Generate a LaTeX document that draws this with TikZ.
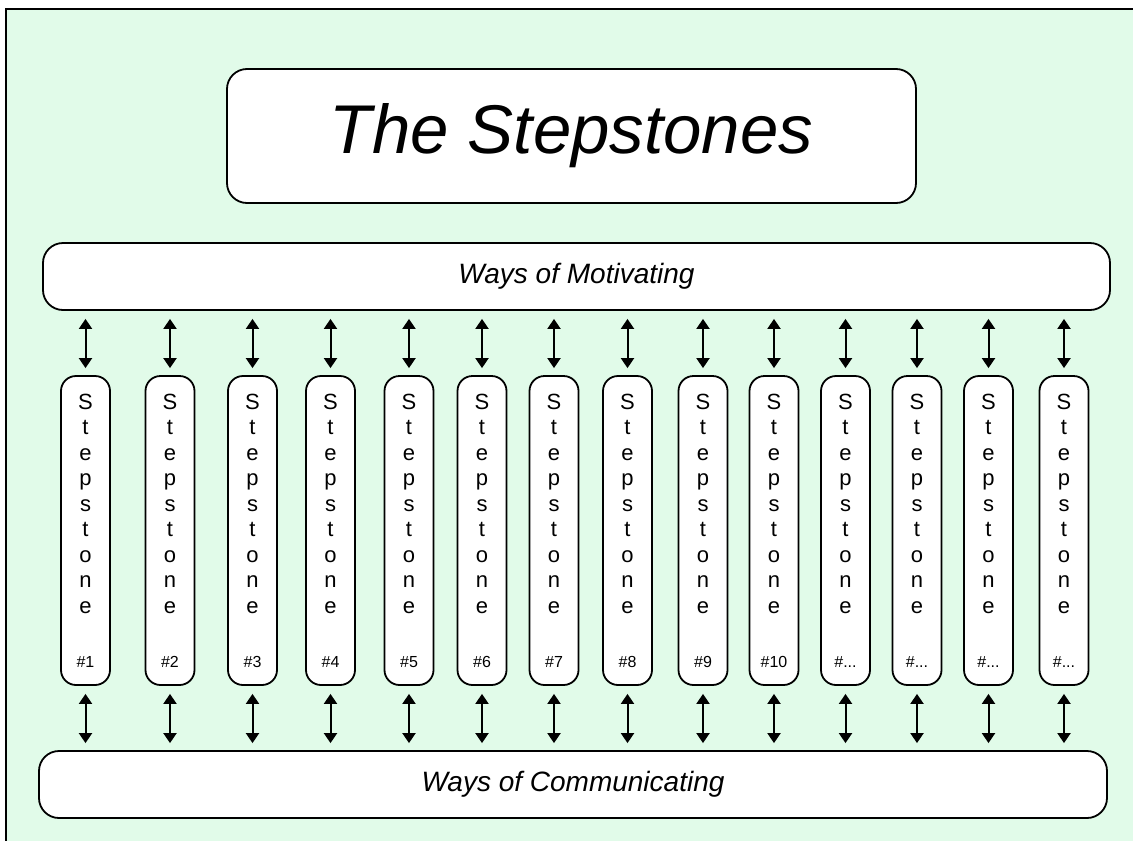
\documentclass[tikz,border=0pt]{standalone}
\usepackage{fontspec}
\setmainfont{Liberation Sans}
\usetikzlibrary{arrows.meta}

\definecolor{mint}{RGB}{225,251,233}
\newcommand{\stonetext}[1]{S\\t\\e\\p\\s\\t\\o\\n\\e\\[28.5pt]{\fontsize{16}{18}\selectfont\##1}}

\tikzset{
  roundbox/.style = {draw, fill=white, line width = 1.8pt, rounded corners = 20pt, inner sep = 0pt},
  stonebox/.style = {draw, fill=white, line width = 1.8pt, rounded corners = 15pt, minimum width = 49pt, minimum height = 309pt, inner sep = 0pt, align = center, font = \fontsize{22}{25.5}\selectfont},
  link/.style = {{Triangle[width=13pt,length=10pt]}-{Triangle[width=13pt,length=10pt]}, line width = 2pt, shorten < = 8pt, shorten > = 7pt}
}

\begin{document}
\begin{tikzpicture}[x=1pt, y=-1pt]
\useasboundingbox (0,0) rectangle (1133,841);
\fill[white] (0,0) rectangle (1133,841);
\draw[fill=mint, line width = 1.8pt] (6,9) rectangle (1160,870);

\node[roundbox, minimum width = 689pt, minimum height = 134pt, font = \fontsize{69}{80}\selectfont\itshape] (title) at (571.5,136) {The Stepstones};
\node[roundbox, minimum width = 1067pt, minimum height = 67pt, font = \fontsize{28}{32}\selectfont\itshape] (motiv) at (576.5,276.5) {Ways of Motivating};
\node[roundbox, minimum width = 1068pt, minimum height = 67pt, font = \fontsize{28}{32}\selectfont\itshape] (comm) at (573,784.5) {Ways of Communicating};

\node[stonebox] (s1) at (85.5,530.5) {\stonetext{1}};
\node[stonebox] (s2) at (170,530.5) {\stonetext{2}};
\node[stonebox] (s3) at (252.5,530.5) {\stonetext{3}};
\node[stonebox] (s4) at (330.5,530.5) {\stonetext{4}};
\node[stonebox] (s5) at (409,530.5) {\stonetext{5}};
\node[stonebox] (s6) at (482,530.5) {\stonetext{6}};
\node[stonebox] (s7) at (554,530.5) {\stonetext{7}};
\node[stonebox] (s8) at (627.5,530.5) {\stonetext{8}};
\node[stonebox] (s9) at (703,530.5) {\stonetext{9}};
\node[stonebox] (s10) at (774,530.5) {\stonetext{10}};
\node[stonebox] (s11) at (845.5,530.5) {\stonetext{...}};
\node[stonebox] (s12) at (917,530.5) {\stonetext{...}};
\node[stonebox] (s13) at (988.5,530.5) {\stonetext{...}};
\node[stonebox] (s14) at (1064,530.5) {\stonetext{...}};

\draw[link] (motiv.south -| s1.north) -- (s1.north);
\draw[link] (motiv.south -| s2.north) -- (s2.north);
\draw[link] (motiv.south -| s3.north) -- (s3.north);
\draw[link] (motiv.south -| s4.north) -- (s4.north);
\draw[link] (motiv.south -| s5.north) -- (s5.north);
\draw[link] (motiv.south -| s6.north) -- (s6.north);
\draw[link] (motiv.south -| s7.north) -- (s7.north);
\draw[link] (motiv.south -| s8.north) -- (s8.north);
\draw[link] (motiv.south -| s9.north) -- (s9.north);
\draw[link] (motiv.south -| s10.north) -- (s10.north);
\draw[link] (motiv.south -| s11.north) -- (s11.north);
\draw[link] (motiv.south -| s12.north) -- (s12.north);
\draw[link] (motiv.south -| s13.north) -- (s13.north);
\draw[link] (motiv.south -| s14.north) -- (s14.north);

\draw[link] (s1.south) -- (comm.north -| s1.south);
\draw[link] (s2.south) -- (comm.north -| s2.south);
\draw[link] (s3.south) -- (comm.north -| s3.south);
\draw[link] (s4.south) -- (comm.north -| s4.south);
\draw[link] (s5.south) -- (comm.north -| s5.south);
\draw[link] (s6.south) -- (comm.north -| s6.south);
\draw[link] (s7.south) -- (comm.north -| s7.south);
\draw[link] (s8.south) -- (comm.north -| s8.south);
\draw[link] (s9.south) -- (comm.north -| s9.south);
\draw[link] (s10.south) -- (comm.north -| s10.south);
\draw[link] (s11.south) -- (comm.north -| s11.south);
\draw[link] (s12.south) -- (comm.north -| s12.south);
\draw[link] (s13.south) -- (comm.north -| s13.south);
\draw[link] (s14.south) -- (comm.north -| s14.south);

\end{tikzpicture}
\end{document}
